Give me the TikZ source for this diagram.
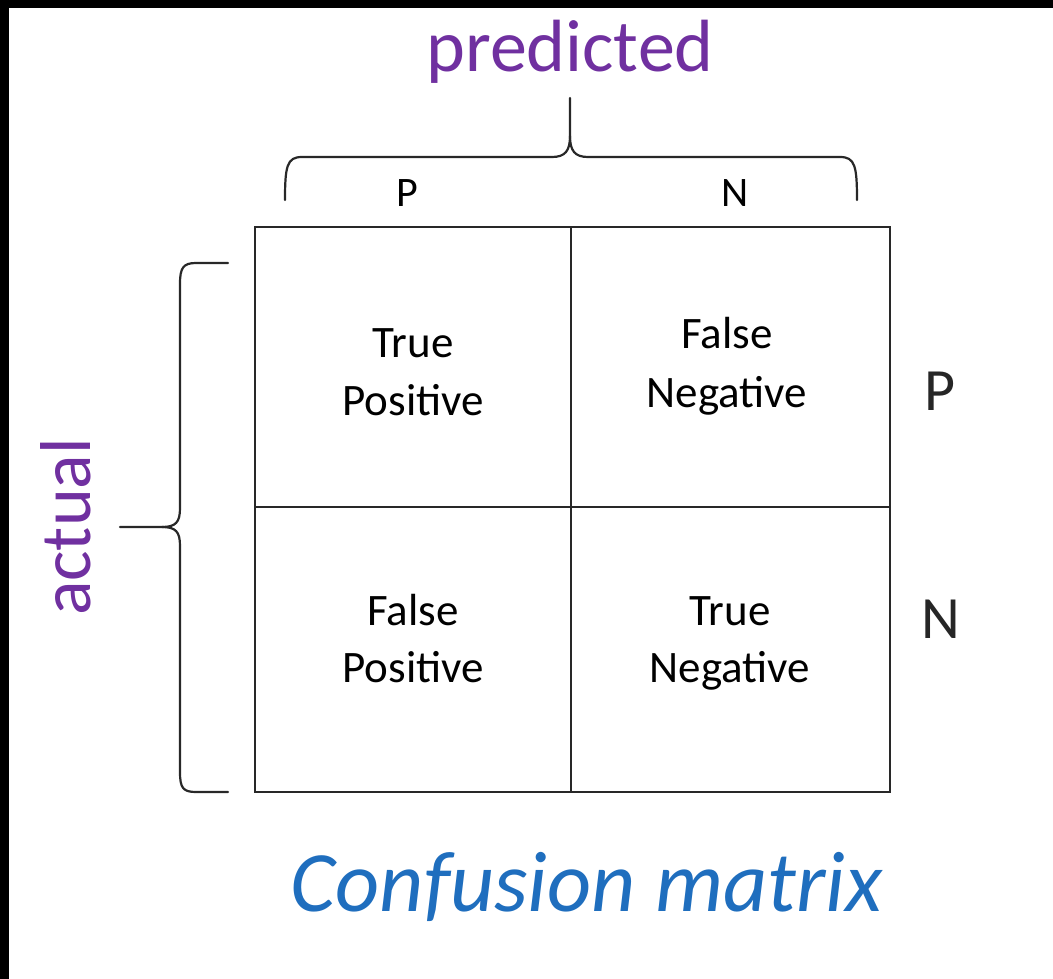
\documentclass[tikz,border=0pt]{standalone}
\usepackage{fontspec}
\setmainfont{Carlito}
\definecolor{purp}{RGB}{112,48,160}
\definecolor{cmblue}{RGB}{31,110,190}
\definecolor{linegray}{RGB}{40,40,40}
\tikzset{
  cellbox/.style={draw=linegray, line width=2.5pt, inner sep=0pt, rectangle},
  celltxt/.style={anchor=base, inner sep=0pt, font=\fontsize{45}{54}\selectfont, text=black},
  headtxt/.style={anchor=base, inner sep=0pt, font=\fontsize{42}{50}\selectfont, text=black},
  rowtxt/.style={anchor=base, inner sep=0pt, font=\fontsize{60}{72}\selectfont, text=black!85},
  axistxt/.style={anchor=base, inner sep=0pt, font=\fontsize{74}{88}\selectfont, text=purp},
  bracestyle/.style={draw=linegray, line width=2.2pt, line cap=round, line join=round},
}
\begin{document}
\begin{tikzpicture}[x=1pt,y=-1pt]
\useasboundingbox (0,0) rectangle (1053,979);
\fill[white] (0,0) rectangle (1053,979);
\fill[black] (0,0) rectangle (1053,8);
\fill[black] (0,0) rectangle (9,979);

% matrix cells
\node[cellbox, minimum width=316pt, minimum height=280pt] (c11) at (413,367) {};
\node[cellbox, minimum width=319pt, minimum height=280pt] (c12) at (730.5,367) {};
\node[cellbox, minimum width=316pt, minimum height=285pt] (c21) at (413,649.5) {};
\node[cellbox, minimum width=319pt, minimum height=285pt] (c22) at (730.5,649.5) {};

% cell texts
\node[celltxt] (tp1) at (413,357) {True};
\node[celltxt] (tp2) at (413,415) {Positive};
\node[celltxt] (fn1) at (727,348) {False};
\node[celltxt] (fn2) at (727,407) {Negative};
\node[celltxt] (fp1) at (413,625) {False};
\node[celltxt] (fp2) at (413,682) {Positive};
\node[celltxt] (tn1) at (730,625) {True};
\node[celltxt] (tn2) at (730,682) {Negative};

% column / row labels
\node[headtxt] (colP) at (407,207) {P};
\node[headtxt] (colN) at (735,207) {N};
\node[rowtxt] (rowP) at (940,410) {P};
\node[rowtxt] (rowN) at (941,638) {N};

% axis titles
\node[axistxt] (pred) at (570,72) {predicted};
\node[axistxt, font=\fontsize{72}{86}\selectfont, rotate=90] (act) at (90,527) {actual};

% top brace
\draw[bracestyle] (285,200) .. controls (285,166) and (287,157) .. (302,157)
  -- (552,157) .. controls (565,157) and (570,151) .. (570,136) -- (570,98);
\draw[bracestyle] (570,136) .. controls (570,151) and (575,157) .. (588,157)
  -- (840,157) .. controls (855,157) and (857,166) .. (857,200);

% left brace
\draw[bracestyle] (228,263) -- (196,263) .. controls (183,263) and (180,268) .. (180,284)
  -- (180,508) .. controls (180,522) and (176,527) .. (162,527) -- (120,527);
\draw[bracestyle] (162,527) .. controls (176,527) and (180,532) .. (180,546)
  -- (180,772) .. controls (180,788) and (183,792) .. (196,792) -- (228,792);

% caption
\node[anchor=base, inner sep=0pt, font=\fontsize{86}{100}\selectfont\itshape, text=cmblue] (cap) at (587,911) {Confusion matrix};
\end{tikzpicture}
\end{document}
